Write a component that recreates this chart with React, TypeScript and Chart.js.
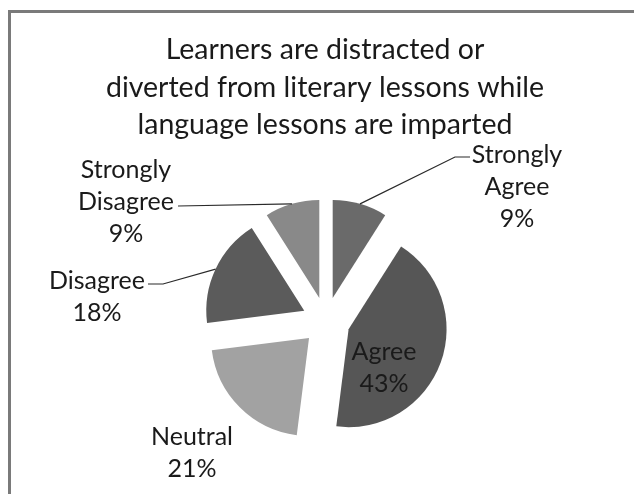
import React, { useEffect, useRef } from 'react';
import { Chart, PieController, ArcElement } from 'chart.js';

Chart.register(PieController, ArcElement);

// ---- data ----
const categories = ['Strongly Agree', 'Agree', 'Neutral', 'Disagree', 'Strongly Disagree'];
const percentages = [9, 43, 21, 18, 9];
const titleLines = [
  'Learners are distracted or',
  'diverted from literary lessons while',
  'language lessons are imparted',
];

// ---- styles / layout ----
const sliceColors = ['#6a6a6a', '#565656', '#a2a2a2', '#5b5b5b', '#898989'];
const FONT = 'Lato, "Open Sans", sans-serif';
const EXPLODE = 24;
const PIE_RADIUS = 98;
const TITLE_SIZE = 28.5;
const TITLE_LINE = 37.5;
const LABEL_SIZE = 25;
const LABEL_LINE = 32;
// label first-line center relative to pie center, optional leader points relative to pie center
const labelLayout = [
  { dx: 191, dy: -166, leader: [[129, -164], [144, -164]] },
  { dx: 58, dy: 31, leader: null },
  { dx: -134, dy: 116, leader: null },
  { dx: -229, dy: -40, leader: [[-163, -37], [-178, -37]] },
  { dx: -200, dy: -151, leader: [[-148, -115]] },
];

const explodePlugin = {
  id: 'explodeDraw',
  beforeDraw(chart: any) {
    const ctx = chart.ctx;
    ctx.save();
    ctx.fillStyle = '#ffffff';
    ctx.fillRect(0, 0, chart.width, chart.height);
    ctx.strokeStyle = '#7a7a7a';
    ctx.lineWidth = 3;
    ctx.strokeRect(9.5, 11.5, 700, 600);
    // title
    ctx.fillStyle = '#1a1a1a';
    ctx.font = `${TITLE_SIZE}px ${FONT}`;
    ctx.textAlign = 'center';
    ctx.textBaseline = 'middle';
    titleLines.forEach((t, i) => ctx.fillText(t, 325, 50 + i * TITLE_LINE));
    ctx.restore();
  },
  beforeDatasetDraw(chart: any, args: any) {
    const ctx = chart.ctx;
    args.meta.data.forEach((arc: any) => {
      const mid = (arc.startAngle + arc.endAngle) / 2;
      ctx.save();
      ctx.translate(Math.cos(mid) * EXPLODE, Math.sin(mid) * EXPLODE);
      arc.draw(ctx);
      ctx.restore();
    });
    return false;
  },
  afterDatasetsDraw(chart: any) {
    const ctx = chart.ctx;
    const meta = chart.getDatasetMeta(0);
    ctx.save();
    meta.data.forEach((arc: any, i: number) => {
      const cx = arc.x;
      const cy = arc.y;
      const mid = (arc.startAngle + arc.endAngle) / 2;
      const lay = labelLayout[i];
      if (lay.leader) {
        const sx = cx + Math.cos(mid) * (EXPLODE + arc.outerRadius);
        const sy = cy + Math.sin(mid) * (EXPLODE + arc.outerRadius);
        ctx.beginPath();
        ctx.strokeStyle = '#2a2a2a';
        ctx.lineWidth = 1.2;
        ctx.moveTo(sx, sy);
        lay.leader.forEach((p: number[]) => ctx.lineTo(cx + p[0], cy + p[1]));
        ctx.stroke();
      }
      const lines = [...categories[i].split(' '), `${percentages[i]}%`];
      ctx.fillStyle = '#1a1a1a';
      ctx.font = `${LABEL_SIZE}px ${FONT}`;
      ctx.textAlign = 'center';
      ctx.textBaseline = 'middle';
      lines.forEach((t, j) => ctx.fillText(t, cx + lay.dx, cy + lay.dy + j * LABEL_LINE));
    });
    ctx.restore();
  },
};

export default function App() {
  const ref = useRef<HTMLCanvasElement>(null);
  useEffect(() => {
    if (!ref.current) return;
    const chart = new Chart(ref.current, {
      type: 'pie',
      data: {
        labels: categories,
        datasets: [
          {
            data: percentages,
            backgroundColor: sliceColors,
            borderWidth: 0,
            offset: 0,
          },
        ],
      },
      options: {
        responsive: false,
        animation: false,
        radius: PIE_RADIUS,
        layout: { padding: { left: 18, right: 0, top: 148, bottom: 0 } },
        plugins: {
          legend: { display: false },
          tooltip: { enabled: false },
        },
        events: [],
      },
      plugins: [explodePlugin],
    });
    return () => chart.destroy();
  }, []);
  return (
    <div style={{ position: 'absolute', left: 0, top: 0, width: 634, height: 494 }}>
      <canvas ref={ref} width={634} height={494} style={{ width: 634, height: 494 }} />
    </div>
  );
}
